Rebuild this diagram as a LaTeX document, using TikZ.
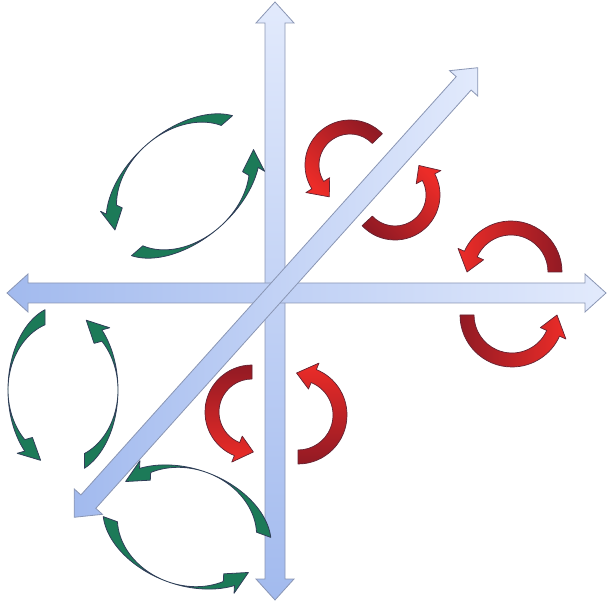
\documentclass[tikz,border=0pt]{standalone}
\usepackage{tikz}

\definecolor{axislight}{RGB}{226,234,252}
\definecolor{axisdark}{RGB}{162,186,238}
\definecolor{axisedge}{RGB}{138,150,180}
\definecolor{redbright}{RGB}{236,44,40}
\definecolor{reddark}{RGB}{146,26,36}
\definecolor{ringrededge}{RGB}{100,35,50}
\definecolor{ringgreen}{RGB}{28,122,88}
\definecolor{ringgreenedge}{RGB}{48,62,88}

\tikzset{
  axisarrow/.style={draw=axisedge,line width=.8pt,line join=miter},
  redring/.style={draw=ringrededge,line width=.7pt,line join=round},
  greenring/.style={fill=ringgreen,draw=ringgreenedge,line width=.8pt,line join=round}
}

\begin{document}
\begin{tikzpicture}[x=1pt,y=1pt]
\path[use as bounding box] (0,0) rectangle (607,605);
% the three axes
\shadedraw[axisarrow,top color=axislight,bottom color=axisdark] (275,603)--(294,582)--(285,582)--(285,26)--(294,26)--(275,5)--(256,26)--(265,26)--(265,582)--(256,582)--cycle;
\shadedraw[axisarrow,left color=axisdark,right color=axislight] (7,312)--(28,331)--(28,322)--(585,322)--(585,331)--(606,312)--(585,293)--(585,302)--(28,302)--(28,293)--cycle;
\begin{scope}[shift={(276,312.5)},rotate=48.1]
\shadedraw[axisarrow,left color=axisdark,right color=axislight] (-302,0)--(-281,19)--(-281,10)--(281,10)--(281,19)--(302,0)--(281,-19)--(281,-10)--(-281,-10)--(-281,-19)--cycle;
\end{scope}

% green rings
\begin{scope}[shift={(183,419)},rotate=41]
\filldraw[greenring] (22:90 and 55) arc[start angle=22,end angle=148,x radius=90,y radius=55] -- (148:93 and 66) -- (168:82 and 55) -- (148:71 and 44) -- (148:74 and 55) arc[start angle=148,end angle=22,x radius=74,y radius=55] -- cycle;
\filldraw[greenring] (200:90 and 55) arc[start angle=200,end angle=320,x radius=90,y radius=55] -- (320:93 and 66) -- (340:82 and 55) -- (320:71 and 44) -- (320:74 and 55) arc[start angle=320,end angle=200,x radius=74,y radius=55] -- cycle;
\end{scope}
\begin{scope}[shift={(63,215)},rotate=90]
\filldraw[greenring] (19:85 and 55) arc[start angle=19,end angle=136,x radius=85,y radius=55] -- (136:88 and 66) -- (156:77 and 55) -- (136:66 and 44) -- (136:69 and 55) arc[start angle=136,end angle=19,x radius=69,y radius=55] -- cycle;
\filldraw[greenring] (203:85 and 55) arc[start angle=203,end angle=315,x radius=85,y radius=55] -- (315:88 and 66) -- (335:77 and 55) -- (315:66 and 44) -- (315:69 and 55) arc[start angle=315,end angle=203,x radius=69,y radius=55] -- cycle;
\end{scope}
\begin{scope}[shift={(187,78)},rotate=-20]
\filldraw[greenring] (19:87 and 58) arc[start angle=19,end angle=138,x radius=87,y radius=58] -- (138:90 and 69) -- (158:79 and 58) -- (138:68 and 47) -- (138:71 and 58) arc[start angle=138,end angle=19,x radius=71,y radius=58] -- cycle;
\filldraw[greenring] (199:87 and 58) arc[start angle=199,end angle=318,x radius=87,y radius=58] -- (318:90 and 69) -- (338:79 and 58) -- (318:68 and 47) -- (318:71 and 58) arc[start angle=318,end angle=199,x radius=71,y radius=58] -- cycle;
\end{scope}

% red rings
\begin{scope}[shift={(350,440)}]
\shadedraw[redring,top color=reddark,bottom color=redbright,shading angle=-45] (44:45) arc[start angle=44,end angle=212,radius=45] -- (212:52) -- (237:38) -- (212:24) -- (212:31) arc[start angle=212,end angle=44,radius=31] -- cycle;
\end{scope}
\begin{scope}[shift={(395,410)}]
\shadedraw[redring,top color=redbright,bottom color=reddark,shading angle=-45] (223:45) arc[start angle=223,end angle=388,radius=45] -- (388:52) -- (411:38) -- (388:24) -- (388:31) arc[start angle=388,end angle=223,radius=31] -- cycle;
\end{scope}
\begin{scope}[shift={(511,333)}]
\shadedraw[redring,left color=redbright,right color=reddark] (0:51) arc[start angle=0,end angle=156,radius=51] -- (156:58) -- (180:44) -- (156:30) -- (156:37) arc[start angle=156,end angle=0,radius=37] -- cycle;
\end{scope}
\begin{scope}[shift={(512,290)}]
\shadedraw[redring,left color=reddark,right color=redbright] (180:52) arc[start angle=180,end angle=336,radius=52] -- (336:59) -- (360:45) -- (336:31) -- (336:38) arc[start angle=336,end angle=180,radius=38] -- cycle;
\end{scope}
\begin{scope}[shift={(252,193)}]
\shadedraw[redring,top color=reddark,bottom color=redbright] (90:47) arc[start angle=90,end angle=248,radius=47] -- (248:54) -- (272:40) -- (248:26) -- (248:33) arc[start angle=248,end angle=90,radius=33] -- cycle;
\end{scope}
\begin{scope}[shift={(298,190)}]
\shadedraw[redring,top color=redbright,bottom color=reddark] (-90:49) arc[start angle=-90,end angle=68,radius=49] -- (68:56) -- (92:42) -- (68:28) -- (68:35) arc[start angle=68,end angle=-90,radius=35] -- cycle;
\end{scope}
\end{tikzpicture}
\end{document}
